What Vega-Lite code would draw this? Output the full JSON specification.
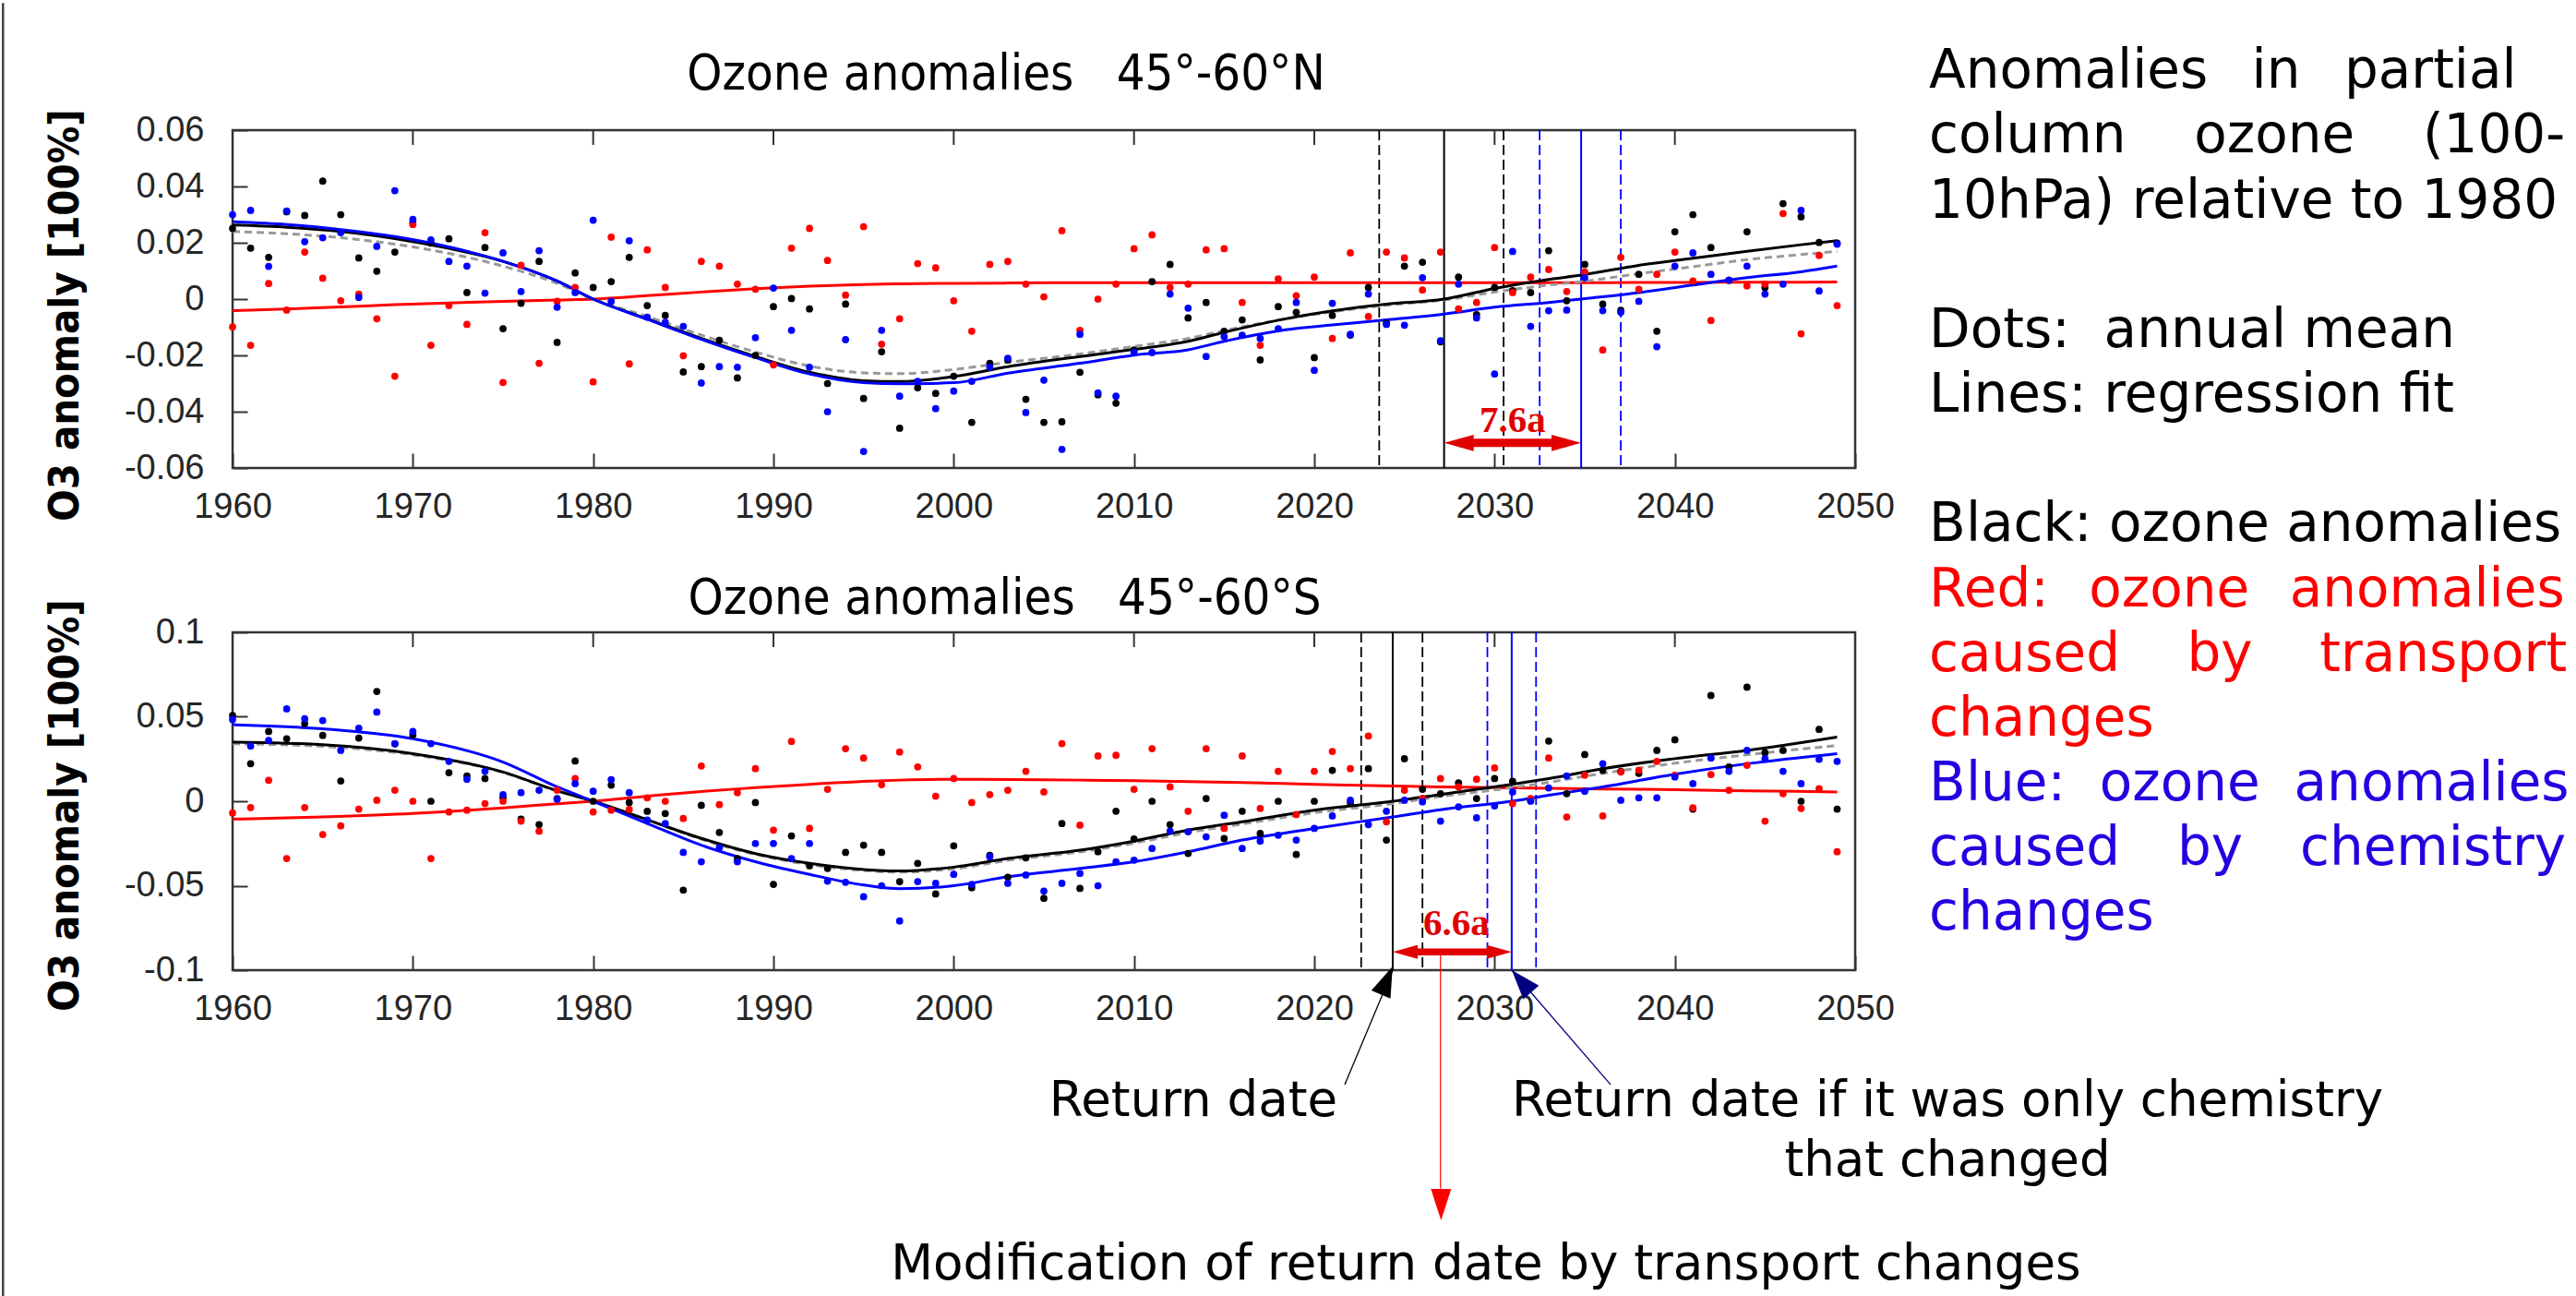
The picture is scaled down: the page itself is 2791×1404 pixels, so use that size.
{
  "$schema": "https://vega.github.io/schema/vega-lite/v6.json",
  "background": "white",
  "padding": 0,
  "autosize": {"type": "pad"},
  "bounds": "flush",
  "spacing": 178,
  "config": {
    "font": "Liberation Sans",
    "view": {"stroke": "#333333", "strokeWidth": 2.5},
    "axis": {"grid": false, "domain": false, "labelFont": "Liberation Sans", "labelFontSize": 38, "labelColor": "#262626", "tickColor": "#333333", "tickWidth": 2, "tickSize": -16, "labelPadding": 39, "labelFlush": false, "labelOverlap": false}
  },
  "datasets": {
    "nDots": [
      {"year":1960,"ozone":0.0251,"transport":-0.0099,"chemistry":0.0300},
      {"year":1961,"ozone":0.0181,"transport":-0.0164,"chemistry":0.0315},
      {"year":1962,"ozone":0.0148,"transport":0.0055,"chemistry":0.0116},
      {"year":1963,"ozone":0.0310,"transport":-0.0039,"chemistry":0.0313},
      {"year":1964,"ozone":0.0297,"transport":0.0167,"chemistry":0.0204},
      {"year":1965,"ozone":0.0419,"transport":0.0074,"chemistry":0.0218},
      {"year":1966,"ozone":0.0300,"transport":-0.0006,"chemistry":0.0236},
      {"year":1967,"ozone":0.0146,"transport":0.0018,"chemistry":0.0006},
      {"year":1968,"ozone":0.0099,"transport":-0.0070,"chemistry":0.0187},
      {"year":1969,"ozone":0.0167,"transport":-0.0274,"chemistry":0.0385},
      {"year":1970,"ozone":0.0272,"transport":0.0265,"chemistry":0.0283},
      {"year":1971,"ozone":0.0199,"transport":-0.0164,"chemistry":0.0210},
      {"year":1972,"ozone":0.0214,"transport":-0.0023,"chemistry":0.0134},
      {"year":1973,"ozone":0.0023,"transport":-0.0090,"chemistry":0.0117},
      {"year":1974,"ozone":0.0183,"transport":0.0236,"chemistry":0.0021},
      {"year":1975,"ozone":-0.0105,"transport":-0.0296,"chemistry":0.0164},
      {"year":1976,"ozone":-0.0015,"transport":0.0120,"chemistry":0.0027},
      {"year":1977,"ozone":0.0134,"transport":-0.0228,"chemistry":0.0172},
      {"year":1978,"ozone":-0.0154,"transport":-0.0008,"chemistry":-0.0029},
      {"year":1979,"ozone":0.0093,"transport":0.0041,"chemistry":0.0023},
      {"year":1980,"ozone":0.0041,"transport":-0.0294,"chemistry":0.0280},
      {"year":1981,"ozone":0.0062,"transport":0.0220,"chemistry":-0.0008},
      {"year":1982,"ozone":0.0148,"transport":-0.0230,"chemistry":0.0207},
      {"year":1983,"ozone":-0.0023,"transport":0.0175,"chemistry":-0.0064},
      {"year":1984,"ozone":-0.0058,"transport":0.0041,"chemistry":-0.0082},
      {"year":1985,"ozone":-0.0259,"transport":-0.0201,"chemistry":-0.0097},
      {"year":1986,"ozone":-0.0240,"transport":0.0134,"chemistry":-0.0298},
      {"year":1987,"ozone":-0.0146,"transport":0.0117,"chemistry":-0.0240},
      {"year":1988,"ozone":-0.0280,"transport":0.0053,"chemistry":-0.0242},
      {"year":1989,"ozone":-0.0200,"transport":0.0035,"chemistry":-0.0137},
      {"year":1990,"ozone":-0.0027,"transport":-0.0234,"chemistry":0.0039},
      {"year":1991,"ozone":0.0002,"transport":0.0181,"chemistry":-0.0111},
      {"year":1992,"ozone":-0.0035,"transport":0.0251,"chemistry":-0.0242},
      {"year":1993,"ozone":-0.0300,"transport":0.0137,"chemistry":-0.0400},
      {"year":1994,"ozone":-0.0018,"transport":0.0014,"chemistry":-0.0144},
      {"year":1995,"ozone":-0.0353,"transport":0.0257,"chemistry":-0.0541},
      {"year":1996,"ozone":-0.0187,"transport":-0.0160,"chemistry":-0.0111},
      {"year":1997,"ozone":-0.0459,"transport":-0.0070,"chemistry":-0.0345},
      {"year":1998,"ozone":-0.0315,"transport":0.0126,"chemistry":-0.0292},
      {"year":1999,"ozone":-0.0335,"transport":0.0111,"chemistry":-0.0389},
      {"year":2000,"ozone":-0.0274,"transport":-0.0006,"chemistry":-0.0327},
      {"year":2001,"ozone":-0.0438,"transport":-0.0114,"chemistry":-0.0292},
      {"year":2002,"ozone":-0.0228,"transport":0.0123,"chemistry":-0.0242},
      {"year":2003,"ozone":-0.0216,"transport":0.0134,"chemistry":-0.0210},
      {"year":2004,"ozone":-0.0356,"transport":0.0053,"chemistry":-0.0403},
      {"year":2005,"ozone":-0.0438,"transport":0.0008,"chemistry":-0.0288},
      {"year":2006,"ozone":-0.0436,"transport":0.0243,"chemistry":-0.0534},
      {"year":2007,"ozone":-0.0260,"transport":-0.0111,"chemistry":-0.0125},
      {"year":2008,"ozone":-0.0340,"transport":0.0000,"chemistry":-0.0333},
      {"year":2009,"ozone":-0.0370,"transport":0.0053,"chemistry":-0.0345},
      {"year":2010,"ozone":-0.0181,"transport":0.0179,"chemistry":-0.0190},
      {"year":2011,"ozone":0.0062,"transport":0.0228,"chemistry":-0.0190},
      {"year":2012,"ozone":0.0123,"transport":0.0041,"chemistry":0.0018},
      {"year":2013,"ozone":-0.0067,"transport":0.0053,"chemistry":-0.0032},
      {"year":2014,"ozone":-0.0012,"transport":0.0175,"chemistry":-0.0204},
      {"year":2015,"ozone":-0.0114,"transport":0.0179,"chemistry":-0.0134},
      {"year":2016,"ozone":-0.0074,"transport":-0.0012,"chemistry":-0.0128},
      {"year":2017,"ozone":-0.0216,"transport":-0.0164,"chemistry":-0.0140},
      {"year":2018,"ozone":-0.0027,"transport":0.0072,"chemistry":-0.0105},
      {"year":2019,"ozone":-0.0047,"transport":0.0012,"chemistry":-0.0012},
      {"year":2020,"ozone":-0.0208,"transport":0.0078,"chemistry":-0.0253},
      {"year":2021,"ozone":-0.0058,"transport":-0.0140,"chemistry":-0.0015},
      {"year":2022,"ozone":-0.0128,"transport":0.0164,"chemistry":-0.0125},
      {"year":2023,"ozone":0.0041,"transport":-0.0062,"chemistry":0.0018},
      {"year":2024,"ozone":-0.0085,"transport":0.0167,"chemistry":-0.0090},
      {"year":2025,"ozone":0.0117,"transport":0.0146,"chemistry":-0.0093},
      {"year":2026,"ozone":0.0131,"transport":0.0032,"chemistry":0.0076},
      {"year":2027,"ozone":-0.0152,"transport":0.0167,"chemistry":-0.0148},
      {"year":2028,"ozone":0.0078,"transport":-0.0035,"chemistry":0.0053},
      {"year":2029,"ozone":-0.0055,"transport":-0.0012,"chemistry":-0.0067},
      {"year":2030,"ozone":0.0041,"transport":0.0183,"chemistry":-0.0266},
      {"year":2031,"ozone":0.0030,"transport":0.0023,"chemistry":0.0169},
      {"year":2032,"ozone":0.0023,"transport":0.0078,"chemistry":-0.0097},
      {"year":2033,"ozone":0.0172,"transport":0.0105,"chemistry":-0.0041},
      {"year":2034,"ozone":-0.0006,"transport":0.0027,"chemistry":-0.0039},
      {"year":2035,"ozone":0.0123,"transport":0.0096,"chemistry":0.0076},
      {"year":2036,"ozone":-0.0018,"transport":-0.0181,"chemistry":-0.0041},
      {"year":2037,"ozone":-0.0040,"transport":0.0148,"chemistry":-0.0047},
      {"year":2038,"ozone":0.0088,"transport":0.0035,"chemistry":-0.0008},
      {"year":2039,"ozone":-0.0114,"transport":0.0088,"chemistry":-0.0169},
      {"year":2040,"ozone":0.0239,"transport":0.0167,"chemistry":0.0117},
      {"year":2041,"ozone":0.0300,"transport":0.0064,"chemistry":0.0164},
      {"year":2042,"ozone":0.0183,"transport":-0.0076,"chemistry":0.0088},
      {"year":2043,"ozone":0.0067,"transport":0.0067,"chemistry":0.0067},
      {"year":2044,"ozone":0.0239,"transport":0.0047,"chemistry":0.0117},
      {"year":2045,"ozone":0.0041,"transport":0.0053,"chemistry":0.0018},
      {"year":2046,"ozone":0.0339,"transport":0.0304,"chemistry":0.0053},
      {"year":2047,"ozone":0.0292,"transport":-0.0123,"chemistry":0.0315},
      {"year":2048,"ozone":0.0201,"transport":0.0155,"chemistry":0.0029},
      {"year":2049,"ozone":0.0199,"transport":-0.0023,"chemistry":0.0195}
    ],
    "sDots": [
      {"year":1960,"ozone":0.0508,"transport":-0.0069,"chemistry":0.0484},
      {"year":1961,"ozone":0.0222,"transport":-0.0037,"chemistry":0.0327},
      {"year":1962,"ozone":0.0413,"transport":0.0124,"chemistry":0.0360},
      {"year":1963,"ozone":0.0370,"transport":-0.0339,"chemistry":0.0547},
      {"year":1964,"ozone":0.0460,"transport":-0.0037,"chemistry":0.0488},
      {"year":1965,"ozone":0.0390,"transport":-0.0197,"chemistry":0.0478},
      {"year":1966,"ozone":0.0120,"transport":-0.0146,"chemistry":0.0301},
      {"year":1967,"ozone":0.0374,"transport":-0.0047,"chemistry":0.0433},
      {"year":1968,"ozone":0.0650,"transport":0.0006,"chemistry":0.0528},
      {"year":1969,"ozone":0.0340,"transport":0.0065,"chemistry":0.0341},
      {"year":1970,"ozone":0.0394,"transport":0.0000,"chemistry":0.0413},
      {"year":1971,"ozone":0.0000,"transport":-0.0339,"chemistry":0.0341},
      {"year":1972,"ozone":0.0169,"transport":-0.0063,"chemistry":0.0236},
      {"year":1973,"ozone":0.0150,"transport":-0.0053,"chemistry":0.0130},
      {"year":1974,"ozone":0.0134,"transport":-0.0014,"chemistry":0.0177},
      {"year":1975,"ozone":0.0020,"transport":0.0000,"chemistry":0.0039},
      {"year":1976,"ozone":-0.0106,"transport":-0.0118,"chemistry":0.0051},
      {"year":1977,"ozone":-0.0138,"transport":-0.0177,"chemistry":0.0065},
      {"year":1978,"ozone":0.0016,"transport":0.0065,"chemistry":0.0012},
      {"year":1979,"ozone":0.0238,"transport":0.0134,"chemistry":0.0104},
      {"year":1980,"ozone":0.0000,"transport":-0.0063,"chemistry":0.0059},
      {"year":1981,"ozone":0.0095,"transport":-0.0053,"chemistry":0.0128},
      {"year":1982,"ozone":-0.0008,"transport":-0.0049,"chemistry":0.0051},
      {"year":1983,"ozone":-0.0060,"transport":0.0020,"chemistry":-0.0112},
      {"year":1984,"ozone":-0.0073,"transport":0.0000,"chemistry":-0.0132},
      {"year":1985,"ozone":-0.0526,"transport":-0.0102,"chemistry":-0.0303},
      {"year":1986,"ozone":-0.0024,"transport":0.0209,"chemistry":-0.0358},
      {"year":1987,"ozone":-0.0185,"transport":-0.0020,"chemistry":-0.0274},
      {"year":1988,"ozone":-0.0339,"transport":0.0051,"chemistry":-0.0358},
      {"year":1989,"ozone":-0.0008,"transport":0.0193,"chemistry":-0.0250},
      {"year":1990,"ozone":-0.0492,"transport":-0.0171,"chemistry":-0.0250},
      {"year":1991,"ozone":-0.0205,"transport":0.0354,"chemistry":-0.0339},
      {"year":1992,"ozone":-0.0382,"transport":-0.0161,"chemistry":-0.0250},
      {"year":1993,"ozone":-0.0398,"transport":0.0071,"chemistry":-0.0473},
      {"year":1994,"ozone":-0.0303,"transport":0.0311,"chemistry":-0.0480},
      {"year":1995,"ozone":-0.0260,"transport":0.0256,"chemistry":-0.0565},
      {"year":1996,"ozone":-0.0303,"transport":0.0098,"chemistry":-0.0500},
      {"year":1997,"ozone":-0.0476,"transport":0.0291,"chemistry":-0.0709},
      {"year":1998,"ozone":-0.0368,"transport":0.0203,"chemistry":-0.0476},
      {"year":1999,"ozone":-0.0549,"transport":0.0030,"chemistry":-0.0486},
      {"year":2000,"ozone":-0.0264,"transport":0.0134,"chemistry":-0.0433},
      {"year":2001,"ozone":-0.0512,"transport":-0.0008,"chemistry":-0.0492},
      {"year":2002,"ozone":-0.0320,"transport":0.0039,"chemistry":-0.0329},
      {"year":2003,"ozone":-0.0450,"transport":0.0065,"chemistry":-0.0486},
      {"year":2004,"ozone":-0.0335,"transport":0.0177,"chemistry":-0.0437},
      {"year":2005,"ozone":-0.0575,"transport":0.0055,"chemistry":-0.0532},
      {"year":2006,"ozone":-0.0132,"transport":0.0341,"chemistry":-0.0486},
      {"year":2007,"ozone":-0.0516,"transport":-0.0142,"chemistry":-0.0427},
      {"year":2008,"ozone":-0.0299,"transport":0.0268,"chemistry":-0.0500},
      {"year":2009,"ozone":-0.0059,"transport":0.0272,"chemistry":-0.0358},
      {"year":2010,"ozone":-0.0224,"transport":0.0071,"chemistry":-0.0349},
      {"year":2011,"ozone":0.0000,"transport":0.0311,"chemistry":-0.0280},
      {"year":2012,"ozone":-0.0138,"transport":0.0085,"chemistry":-0.0177},
      {"year":2013,"ozone":-0.0309,"transport":-0.0059,"chemistry":-0.0181},
      {"year":2014,"ozone":0.0016,"transport":0.0311,"chemistry":-0.0211},
      {"year":2015,"ozone":-0.0221,"transport":-0.0161,"chemistry":-0.0083},
      {"year":2016,"ozone":-0.0059,"transport":0.0268,"chemistry":-0.0280},
      {"year":2017,"ozone":-0.0191,"transport":-0.0043,"chemistry":-0.0236},
      {"year":2018,"ozone":0.0000,"transport":0.0177,"chemistry":-0.0201},
      {"year":2019,"ozone":-0.0315,"transport":-0.0079,"chemistry":-0.0230},
      {"year":2020,"ozone":0.0000,"transport":0.0177,"chemistry":-0.0161},
      {"year":2021,"ozone":0.0183,"transport":0.0295,"chemistry":-0.0087},
      {"year":2022,"ozone":-0.0010,"transport":0.0193,"chemistry":0.0006},
      {"year":2023,"ozone":0.0193,"transport":0.0386,"chemistry":-0.0138},
      {"year":2024,"ozone":-0.0230,"transport":-0.0122,"chemistry":-0.0059},
      {"year":2025,"ozone":0.0252,"transport":0.0065,"chemistry":0.0006},
      {"year":2026,"ozone":0.0071,"transport":0.0016,"chemistry":-0.0004},
      {"year":2027,"ozone":0.0045,"transport":0.0134,"chemistry":-0.0118},
      {"year":2028,"ozone":0.0108,"transport":0.0085,"chemistry":-0.0033},
      {"year":2029,"ozone":0.0016,"transport":0.0130,"chemistry":-0.0098},
      {"year":2030,"ozone":0.0134,"transport":0.0197,"chemistry":-0.0028},
      {"year":2031,"ozone":0.0118,"transport":-0.0014,"chemistry":0.0055},
      {"year":2032,"ozone":0.0006,"transport":0.0016,"chemistry":0.0000},
      {"year":2033,"ozone":0.0356,"transport":0.0256,"chemistry":0.0079},
      {"year":2034,"ozone":0.0045,"transport":-0.0093,"chemistry":0.0150},
      {"year":2035,"ozone":0.0276,"transport":0.0154,"chemistry":0.0059},
      {"year":2036,"ozone":0.0183,"transport":-0.0087,"chemistry":0.0222},
      {"year":2037,"ozone":0.0177,"transport":0.0173,"chemistry":0.0006},
      {"year":2038,"ozone":0.0165,"transport":0.0183,"chemistry":0.0020},
      {"year":2039,"ozone":0.0301,"transport":0.0236,"chemistry":0.0020},
      {"year":2040,"ozone":0.0364,"transport":0.0154,"chemistry":0.0144},
      {"year":2041,"ozone":-0.0047,"transport":-0.0039,"chemistry":0.0104},
      {"year":2042,"ozone":0.0626,"transport":0.0158,"chemistry":0.0256},
      {"year":2043,"ozone":0.0203,"transport":0.0065,"chemistry":0.0177},
      {"year":2044,"ozone":0.0675,"transport":0.0213,"chemistry":0.0301},
      {"year":2045,"ozone":0.0287,"transport":-0.0118,"chemistry":0.0252},
      {"year":2046,"ozone":0.0301,"transport":0.0045,"chemistry":0.0177},
      {"year":2047,"ozone":0.0000,"transport":-0.0043,"chemistry":0.0104},
      {"year":2048,"ozone":0.0425,"transport":0.0075,"chemistry":0.0248},
      {"year":2049,"ozone":-0.0047,"transport":-0.0299,"chemistry":0.0236}
    ],
    "nFit": [
      {"year":1960,"ozone":0.0263,"transport":-0.0041,"chemistry":0.0275,"combined":0.0240},
      {"year":1963,"ozone":0.0255,"transport":-0.0035,"chemistry":0.0265,"combined":0.0232},
      {"year":1966,"ozone":0.0240,"transport":-0.0028,"chemistry":0.0247,"combined":0.0218},
      {"year":1969,"ozone":0.0215,"transport":-0.0020,"chemistry":0.0222,"combined":0.0195},
      {"year":1972,"ozone":0.0180,"transport":-0.0014,"chemistry":0.0185,"combined":0.0162},
      {"year":1975,"ozone":0.0134,"transport":-0.0008,"chemistry":0.0134,"combined":0.0117},
      {"year":1978,"ozone":0.0064,"transport":-0.0003,"chemistry":0.0064,"combined":0.0056},
      {"year":1980,"ozone":0.0000,"transport":0.0000,"chemistry":0.0000,"combined":0.0000},
      {"year":1983,"ozone":-0.0070,"transport":0.0012,"chemistry":-0.0072,"combined":-0.0062},
      {"year":1986,"ozone":-0.0140,"transport":0.0025,"chemistry":-0.0143,"combined":-0.0128},
      {"year":1989,"ozone":-0.0204,"transport":0.0037,"chemistry":-0.0208,"combined":-0.0188},
      {"year":1992,"ozone":-0.0260,"transport":0.0046,"chemistry":-0.0266,"combined":-0.0238},
      {"year":1995,"ozone":-0.0290,"transport":0.0052,"chemistry":-0.0297,"combined":-0.0262},
      {"year":1997,"ozone":-0.0293,"transport":0.0054,"chemistry":-0.0301,"combined":-0.0265},
      {"year":2000,"ozone":-0.0275,"transport":0.0056,"chemistry":-0.0297,"combined":-0.0250},
      {"year":2003,"ozone":-0.0240,"transport":0.0057,"chemistry":-0.0263,"combined":-0.0225},
      {"year":2007,"ozone":-0.0204,"transport":0.0058,"chemistry":-0.0228,"combined":-0.0195},
      {"year":2010,"ozone":-0.0179,"transport":0.0058,"chemistry":-0.0199,"combined":-0.0168},
      {"year":2013,"ozone":-0.0150,"transport":0.0058,"chemistry":-0.0180,"combined":-0.0140},
      {"year":2015,"ozone":-0.0118,"transport":0.0058,"chemistry":-0.0150,"combined":-0.0112},
      {"year":2018,"ozone":-0.0075,"transport":0.0058,"chemistry":-0.0113,"combined":-0.0075},
      {"year":2021,"ozone":-0.0042,"transport":0.0058,"chemistry":-0.0092,"combined":-0.0045},
      {"year":2024,"ozone":-0.0018,"transport":0.0058,"chemistry":-0.0074,"combined":-0.0022},
      {"year":2027.2,"ozone":0.0000,"transport":0.0058,"chemistry":-0.0053,"combined":-0.0003},
      {"year":2030,"ozone":0.0038,"transport":0.0058,"chemistry":-0.0029,"combined":0.0025},
      {"year":2033,"ozone":0.0070,"transport":0.0058,"chemistry":-0.0012,"combined":0.0050},
      {"year":2034.8,"ozone":0.0085,"transport":0.0058,"chemistry":0.0000,"combined":0.0062},
      {"year":2038,"ozone":0.0120,"transport":0.0059,"chemistry":0.0023,"combined":0.0090},
      {"year":2041,"ozone":0.0145,"transport":0.0059,"chemistry":0.0050,"combined":0.0115},
      {"year":2044,"ozone":0.0170,"transport":0.0060,"chemistry":0.0076,"combined":0.0140},
      {"year":2047,"ozone":0.0193,"transport":0.0060,"chemistry":0.0097,"combined":0.0158},
      {"year":2049,"ozone":0.0207,"transport":0.0061,"chemistry":0.0117,"combined":0.0170}
    ],
    "sFit": [
      {"year":1960,"ozone":0.0350,"transport":-0.0106,"chemistry":0.0453,"combined":0.0340},
      {"year":1965,"ozone":0.0335,"transport":-0.0093,"chemistry":0.0429,"combined":0.0325},
      {"year":1970,"ozone":0.0282,"transport":-0.0073,"chemistry":0.0370,"combined":0.0275},
      {"year":1975,"ozone":0.0173,"transport":-0.0039,"chemistry":0.0232,"combined":0.0170},
      {"year":1978,"ozone":0.0062,"transport":-0.0015,"chemistry":0.0085,"combined":0.0060},
      {"year":1980,"ozone":0.0000,"transport":0.0000,"chemistry":0.0000,"combined":0.0000},
      {"year":1983,"ozone":-0.0110,"transport":0.0030,"chemistry":-0.0132,"combined":-0.0110},
      {"year":1986,"ozone":-0.0220,"transport":0.0058,"chemistry":-0.0260,"combined":-0.0225},
      {"year":1989,"ozone":-0.0310,"transport":0.0080,"chemistry":-0.0358,"combined":-0.0315},
      {"year":1992,"ozone":-0.0368,"transport":0.0100,"chemistry":-0.0433,"combined":-0.0375},
      {"year":1995,"ozone":-0.0404,"transport":0.0118,"chemistry":-0.0496,"combined":-0.0410},
      {"year":1997,"ozone":-0.0413,"transport":0.0125,"chemistry":-0.0518,"combined":-0.0420},
      {"year":2000,"ozone":-0.0390,"transport":0.0130,"chemistry":-0.0500,"combined":-0.0400},
      {"year":2003,"ozone":-0.0339,"transport":0.0128,"chemistry":-0.0447,"combined":-0.0350},
      {"year":2007,"ozone":-0.0290,"transport":0.0125,"chemistry":-0.0398,"combined":-0.0300},
      {"year":2010,"ozone":-0.0236,"transport":0.0122,"chemistry":-0.0358,"combined":-0.0248},
      {"year":2013,"ozone":-0.0171,"transport":0.0116,"chemistry":-0.0299,"combined":-0.0185},
      {"year":2016,"ozone":-0.0122,"transport":0.0110,"chemistry":-0.0230,"combined":-0.0135},
      {"year":2020,"ozone":-0.0053,"transport":0.0100,"chemistry":-0.0161,"combined":-0.0068},
      {"year":2024.35,"ozone":0.0000,"transport":0.0090,"chemistry":-0.0093,"combined":-0.0014},
      {"year":2027,"ozone":0.0040,"transport":0.0085,"chemistry":-0.0050,"combined":0.0028},
      {"year":2030.95,"ozone":0.0100,"transport":0.0079,"chemistry":0.0000,"combined":0.0080},
      {"year":2033,"ozone":0.0134,"transport":0.0077,"chemistry":0.0035,"combined":0.0112},
      {"year":2036,"ozone":0.0193,"transport":0.0073,"chemistry":0.0085,"combined":0.0165},
      {"year":2040,"ozone":0.0252,"transport":0.0068,"chemistry":0.0160,"combined":0.0225},
      {"year":2044,"ozone":0.0301,"transport":0.0062,"chemistry":0.0222,"combined":0.0275},
      {"year":2049,"ozone":0.0380,"transport":0.0055,"chemistry":0.0282,"combined":0.0330}
    ],
    "nReturn": [
      {"year":2023.6,"series":"ozone","kind":"range"},
      {"year":2027.2,"series":"ozone","kind":"estimate"},
      {"year":2030.5,"series":"ozone","kind":"range"},
      {"year":2032.5,"series":"chemistry","kind":"range"},
      {"year":2034.8,"series":"chemistry","kind":"estimate"},
      {"year":2037.0,"series":"chemistry","kind":"range"}
    ],
    "sReturn": [
      {"year":2022.6,"series":"ozone","kind":"range"},
      {"year":2024.35,"series":"ozone","kind":"estimate"},
      {"year":2026.0,"series":"ozone","kind":"range"},
      {"year":2029.6,"series":"chemistry","kind":"range"},
      {"year":2030.95,"series":"chemistry","kind":"estimate"},
      {"year":2032.3,"series":"chemistry","kind":"range"}
    ]
  },
  "vconcat": [
    {
      "width": 1758,
      "height": 366,
      "encoding": {
        "x": {"field": "year", "type": "quantitative", "scale": {"domain": [1960, 2050], "nice": false, "zero": false},
              "axis": {"values": [1960,1970,1980,1990,2000,2010,2020,2030,2040,2050], "format": "d", "title": null}}
      },
      "layer": [
        {"data": {"name": "nDots"}, "transform": [{"fold": ["ozone", "transport", "chemistry"], "as": ["series", "v"]}],
         "mark": {"type": "point", "filled": true, "size": 0, "opacity": 0},
         "encoding": {"y": {"field": "v", "type": "quantitative", "scale": {"domain": [-0.06, 0.06], "nice": false, "zero": false},
              "axis": {"values": [-0.06,-0.04,-0.02,0,0.02,0.04,0.06], "labelExpr": "replace(format(datum.value, '~g'), '\u2212', '-')", "labelPadding": 47,
                       "title": "O3 anomaly [100%]", "titleFont": "DejaVu Sans Condensed, DejaVu Sans", "titleFontWeight": "bold", "titleFontSize": 45, "titleColor": "#000000",
                       "titleAngle": 270, "titleAlign": "center", "titleBaseline": "alphabetic", "titleX": -168, "titleY": 200}}}},
        {"data": {"values": [{}]}, "mark": {"type": "rule", "color": "#000000", "strokeWidth": 2, "strokeDash": [7, 5]},
         "encoding": {"x": {"datum": 1960}, "x2": {"datum": 2050}, "y": {"datum": 0}}},
        {"data": {"name": "nReturn"}, "transform": [{"filter": "datum.kind === 'range'"}], "mark": {"type": "rule", "strokeWidth": 1.8, "strokeDash": [11, 5]},
         "encoding": {"color": {"field": "series", "type": "nominal", "scale": {"domain": ["ozone", "transport", "chemistry"], "range": ["#000000", "#ff0000", "#0000ff"]}, "legend": null}}},
        {"data": {"name": "nReturn"}, "transform": [{"filter": "datum.kind === 'estimate'"}], "mark": {"type": "rule", "strokeWidth": 2},
         "encoding": {"color": {"field": "series", "type": "nominal", "scale": {"domain": ["ozone", "transport", "chemistry"], "range": ["#000000", "#ff0000", "#0000ff"]}, "legend": null}}},
        {"data": {"name": "nFit"}, "mark": {"type": "line", "color": "#ff0000", "strokeWidth": 3, "interpolate": "monotone"}, "encoding": {"y": {"field": "transport", "type": "quantitative"}}},
        {"data": {"name": "nFit"}, "mark": {"type": "line", "color": "#999999", "strokeWidth": 3, "strokeDash": [8, 5], "interpolate": "monotone"}, "encoding": {"y": {"field": "combined", "type": "quantitative"}}},
        {"data": {"name": "nFit"}, "mark": {"type": "line", "color": "#000000", "strokeWidth": 3, "interpolate": "monotone"}, "encoding": {"y": {"field": "ozone", "type": "quantitative"}}},
        {"data": {"name": "nFit"}, "mark": {"type": "line", "color": "#0000ff", "strokeWidth": 3, "interpolate": "monotone"}, "encoding": {"y": {"field": "chemistry", "type": "quantitative"}}},
        {"data": {"name": "nDots"}, "transform": [{"fold": ["ozone", "transport", "chemistry"], "as": ["series", "v"]}],
         "mark": {"type": "point", "filled": true, "size": 60, "opacity": 1},
         "encoding": {"y": {"field": "v", "type": "quantitative"},
                      "color": {"field": "series", "type": "nominal", "scale": {"domain": ["ozone", "transport", "chemistry"], "range": ["#000000", "#ff0000", "#0000ff"]}, "legend": null}}},
        {"data": {"values": [{"year":1970},{"year":1980},{"year":1990},{"year":2000},{"year":2010},{"year":2020},{"year":2030},{"year":2040}]},
         "mark": {"type": "tick", "orient": "vertical", "color": "#333333", "thickness": 2, "size": 16, "opacity": 1}, "encoding": {"y": {"datum": 0.05738}}},
        {"data": {"values": [{"v":-0.04},{"v":-0.02},{"v":0},{"v":0.02},{"v":0.04}]},
         "mark": {"type": "tick", "orient": "horizontal", "color": "#333333", "thickness": 2, "size": 16, "opacity": 1}, "encoding": {"x": {"datum": 2049.59}, "y": {"field": "v", "type": "quantitative"}}},
        {"data": {"values": [{"year": 2028.02, "year2": 2033.98, "v": -0.0511}]},
         "mark": {"type": "rule", "color": "#e00000", "strokeWidth": 9}, "encoding": {"x2": {"field": "year2"}, "y": {"field": "v", "type": "quantitative"}}},
        {"data": {"values": [{"year": 2028.02, "v": -0.0511}]},
         "mark": {"type": "point", "filled": true, "opacity": 1, "color": "#e00000", "size": 1024, "shape": "M-1,0L1,-0.55L1,0.55Z"},
         "encoding": {"y": {"field": "v", "type": "quantitative"}}},
        {"data": {"values": [{"year": 2033.98, "v": -0.0511}]},
         "mark": {"type": "point", "filled": true, "opacity": 1, "color": "#e00000", "size": 1024, "shape": "M1,0L-1,-0.55L-1,0.55Z"},
         "encoding": {"y": {"field": "v", "type": "quantitative"}}},
        {"data": {"values": [{"year": 2031.0, "v": -0.0472, "label": "7.6a"}]},
         "mark": {"type": "text", "font": "Liberation Serif", "fontWeight": "bold", "fontSize": 41, "color": "#e00000", "align": "center", "baseline": "alphabetic"},
         "encoding": {"y": {"field": "v", "type": "quantitative"}, "text": {"field": "label"}}},
        {"data": {"values": [{"year": 2002.9, "v": 0.0744, "label": "Ozone anomalies\u00a0\u00a0\u00a045°-60°N"}]},
         "mark": {"type": "text", "font": "DejaVu Sans Condensed, Liberation Sans", "fontSize": 54, "color": "#000000", "align": "center", "baseline": "alphabetic"},
         "encoding": {"y": {"field": "v", "type": "quantitative"}, "text": {"field": "label"}}},
        {"data": {"values": [
           {"year": 2054.1, "v": 0.0750, "block": "intro", "lines": ["Anomalies\u2002\u00a0in\u2002\u00a0partial", "column\u00a0\u00a0\u00a0\u00a0ozone\u00a0\u00a0\u00a0\u00a0(100-", "10hPa) relative to 1980"]},
           {"year": 2054.1, "v": -0.01705, "block": "intro", "lines": ["Dots:\u00a0 annual mean", "Lines: regression fit"]},
           {"year": 2054.1, "v": -0.08603, "block": "intro", "lines": ["Black: ozone anomalies"]},
           {"year": 2054.1, "v": -0.10902, "block": "transport", "lines": ["Red:\u2002\u2005ozone\u2002\u2005anomalies", "caused\u2002\u2002\u2005by\u2002\u2002\u2005transport", "changes"]},
           {"year": 2054.1, "v": -0.17803, "block": "chemistry", "lines": ["Blue:\u00a0\u00a0ozone\u00a0\u00a0anomalies", "caused\u2002\u00a0\u2005by\u2002\u00a0\u2005chemistry", "changes"]}
         ]},
         "mark": {"type": "text", "font": "DejaVu Sans", "fontSize": 58, "lineHeight": 70.15, "align": "left", "baseline": "alphabetic"},
         "encoding": {"y": {"field": "v", "type": "quantitative"}, "text": {"field": "lines"},
                      "fill": {"field": "block", "type": "nominal", "scale": {"domain": ["intro", "transport", "chemistry"], "range": ["#000000", "#ff0000", "#2300e0"]}, "legend": null}}},
        {"data": {"values": [{"year": 1947.265, "v": 0.10516, "v2": -0.35475}]},
         "mark": {"type": "rule", "color": "#444444", "strokeWidth": 2.5}, "encoding": {"y": {"field": "v", "type": "quantitative"}, "y2": {"field": "v2"}}}
      ]
    },
    {
      "width": 1758,
      "height": 366,
      "encoding": {
        "x": {"field": "year", "type": "quantitative", "scale": {"domain": [1960, 2050], "nice": false, "zero": false},
              "axis": {"values": [1960,1970,1980,1990,2000,2010,2020,2030,2040,2050], "format": "d", "title": null}}
      },
      "layer": [
        {"data": {"name": "sDots"}, "transform": [{"fold": ["ozone", "transport", "chemistry"], "as": ["series", "v"]}],
         "mark": {"type": "point", "filled": true, "size": 0, "opacity": 0},
         "encoding": {"y": {"field": "v", "type": "quantitative", "scale": {"domain": [-0.1, 0.1], "nice": false, "zero": false},
              "axis": {"values": [-0.1,-0.05,0,0.05,0.1], "labelExpr": "replace(format(datum.value, '~g'), '\u2212', '-')", "labelPadding": 47,
                       "title": "O3 anomaly [100%]", "titleFont": "DejaVu Sans Condensed, DejaVu Sans", "titleFontWeight": "bold", "titleFontSize": 45, "titleColor": "#000000",
                       "titleAngle": 270, "titleAlign": "center", "titleBaseline": "alphabetic", "titleX": -168, "titleY": 187}}}},
        {"data": {"values": [{}]}, "mark": {"type": "rule", "color": "#000000", "strokeWidth": 2, "strokeDash": [7, 5]},
         "encoding": {"x": {"datum": 1960}, "x2": {"datum": 2050}, "y": {"datum": 0}}},
        {"data": {"name": "sReturn"}, "transform": [{"filter": "datum.kind === 'range'"}], "mark": {"type": "rule", "strokeWidth": 1.8, "strokeDash": [11, 5]},
         "encoding": {"color": {"field": "series", "type": "nominal", "scale": {"domain": ["ozone", "transport", "chemistry"], "range": ["#000000", "#ff0000", "#0000ff"]}, "legend": null}}},
        {"data": {"name": "sReturn"}, "transform": [{"filter": "datum.kind === 'estimate'"}], "mark": {"type": "rule", "strokeWidth": 2},
         "encoding": {"color": {"field": "series", "type": "nominal", "scale": {"domain": ["ozone", "transport", "chemistry"], "range": ["#000000", "#ff0000", "#0000ff"]}, "legend": null}}},
        {"data": {"name": "sFit"}, "mark": {"type": "line", "color": "#ff0000", "strokeWidth": 3, "interpolate": "monotone"}, "encoding": {"y": {"field": "transport", "type": "quantitative"}}},
        {"data": {"name": "sFit"}, "mark": {"type": "line", "color": "#999999", "strokeWidth": 3, "strokeDash": [8, 5], "interpolate": "monotone"}, "encoding": {"y": {"field": "combined", "type": "quantitative"}}},
        {"data": {"name": "sFit"}, "mark": {"type": "line", "color": "#000000", "strokeWidth": 3, "interpolate": "monotone"}, "encoding": {"y": {"field": "ozone", "type": "quantitative"}}},
        {"data": {"name": "sFit"}, "mark": {"type": "line", "color": "#0000ff", "strokeWidth": 3, "interpolate": "monotone"}, "encoding": {"y": {"field": "chemistry", "type": "quantitative"}}},
        {"data": {"name": "sDots"}, "transform": [{"fold": ["ozone", "transport", "chemistry"], "as": ["series", "v"]}],
         "mark": {"type": "point", "filled": true, "size": 60, "opacity": 1},
         "encoding": {"y": {"field": "v", "type": "quantitative"},
                      "color": {"field": "series", "type": "nominal", "scale": {"domain": ["ozone", "transport", "chemistry"], "range": ["#000000", "#ff0000", "#0000ff"]}, "legend": null}}},
        {"data": {"values": [{"year":1970},{"year":1980},{"year":1990},{"year":2000},{"year":2010},{"year":2020},{"year":2030},{"year":2040}]},
         "mark": {"type": "tick", "orient": "vertical", "color": "#333333", "thickness": 2, "size": 16, "opacity": 1}, "encoding": {"y": {"datum": 0.09563}}},
        {"data": {"values": [{"v":-0.05},{"v":0},{"v":0.05}]},
         "mark": {"type": "tick", "orient": "horizontal", "color": "#333333", "thickness": 2, "size": 16, "opacity": 1}, "encoding": {"x": {"datum": 2049.59}, "y": {"field": "v", "type": "quantitative"}}},
        {"data": {"values": [{"year": 2025.17, "year2": 2030.13, "v": -0.0892}]},
         "mark": {"type": "rule", "color": "#e00000", "strokeWidth": 7.5}, "encoding": {"x2": {"field": "year2"}, "y": {"field": "v", "type": "quantitative"}}},
        {"data": {"values": [{"year": 2025.04, "v": -0.0892}]},
         "mark": {"type": "point", "filled": true, "opacity": 1, "color": "#e00000", "size": 729, "shape": "M-1,0L1,-0.55L1,0.55Z"},
         "encoding": {"y": {"field": "v", "type": "quantitative"}}},
        {"data": {"values": [{"year": 2030.26, "v": -0.0892}]},
         "mark": {"type": "point", "filled": true, "opacity": 1, "color": "#e00000", "size": 729, "shape": "M1,0L-1,-0.55L-1,0.55Z"},
         "encoding": {"y": {"field": "v", "type": "quantitative"}}},
        {"data": {"values": [{"year": 2027.88, "v": -0.0791, "label": "6.6a"}]},
         "mark": {"type": "text", "font": "Liberation Serif", "fontWeight": "bold", "fontSize": 41, "color": "#e00000", "align": "center", "baseline": "alphabetic"},
         "encoding": {"y": {"field": "v", "type": "quantitative"}, "text": {"field": "label"}}},
        {"data": {"values": [{"year": 2027.0, "v": -0.0892, "v2": -0.2293}]},
         "mark": {"type": "rule", "color": "#ff0000", "strokeWidth": 1.2}, "encoding": {"y": {"field": "v", "type": "quantitative"}, "y2": {"field": "v2"}}},
        {"data": {"values": [{"year": 2027.03, "v": -0.2388}]},
         "mark": {"type": "point", "filled": true, "opacity": 1, "color": "#ff0000", "size": 1156, "shape": "M0,1L0.65,-1L-0.65,-1Z"},
         "encoding": {"y": {"field": "v", "type": "quantitative"}}},
        {"data": {"values": [{"year": 2021.69, "v": -0.1678, "year2": 2024.35, "v2": -0.1}]},
         "mark": {"type": "rule", "color": "#000000", "strokeWidth": 1.3}, "encoding": {"x2": {"field": "year2"}, "y": {"field": "v", "type": "quantitative"}, "y2": {"field": "v2"}}},
        {"data": {"values": [{"year": 2024.02, "v": -0.1061}]},
         "mark": {"type": "point", "filled": true, "opacity": 1, "color": "#000000", "size": 1089, "angle": 22.75, "shape": "M0,-1L0.68,1L-0.68,1Z"},
         "encoding": {"y": {"field": "v", "type": "quantitative"}}},
        {"data": {"values": [{"year": 2036.44, "v": -0.1678, "year2": 2030.95, "v2": -0.1}]},
         "mark": {"type": "rule", "color": "#000080", "strokeWidth": 1.3}, "encoding": {"x2": {"field": "year2"}, "y": {"field": "v", "type": "quantitative"}, "y2": {"field": "v2"}}},
        {"data": {"values": [{"year": 2031.49, "v": -0.1066}]},
         "mark": {"type": "point", "filled": true, "opacity": 1, "color": "#000080", "size": 1024, "angle": -40.8, "shape": "M0,-1L0.7,1L-0.7,1Z"},
         "encoding": {"y": {"field": "v", "type": "quantitative"}}},
        {"data": {"values": [
           {"year": 2013.29, "v": -0.1861, "lines": ["Return date"]},
           {"year": 2055.12, "v": -0.1861, "lines": ["Return date if it was only chemistry", "that changed"]},
           {"year": 2029.52, "v": -0.2831, "lines": ["Modification of return date by transport changes"]}
         ]},
         "mark": {"type": "text", "font": "DejaVu Sans", "fontSize": 53, "lineHeight": 65.6, "color": "#000000", "align": "center", "baseline": "alphabetic"},
         "encoding": {"y": {"field": "v", "type": "quantitative"}, "text": {"field": "lines"}}},
        {"data": {"values": [{"year": 2002.83, "v": 0.1112, "label": "Ozone anomalies\u00a0\u00a0\u00a045°-60°S"}]},
         "mark": {"type": "text", "font": "DejaVu Sans Condensed, Liberation Sans", "fontSize": 54, "color": "#000000", "align": "center", "baseline": "alphabetic"},
         "encoding": {"y": {"field": "v", "type": "quantitative"}, "text": {"field": "label"}}}
      ]
    }
  ]
}
